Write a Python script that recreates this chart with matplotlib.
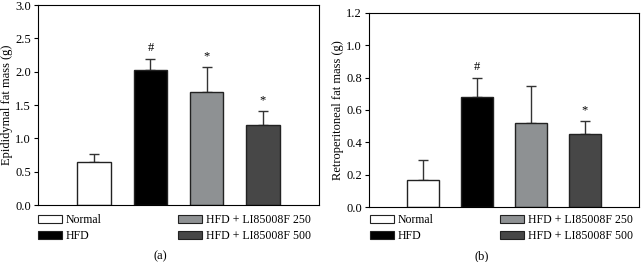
import matplotlib
matplotlib.use("Agg")
import matplotlib.pyplot as plt
from matplotlib.patches import Patch

groups = ["Normal", "HFD", "HFD + LI85008F 250", "HFD + LI85008F 500"]
colors = ["#ffffff", "#000000", "#8e9193", "#474747"]

epi_mean = [0.65, 2.03, 1.70, 1.20]
epi_err = [0.12, 0.16, 0.37, 0.21]
epi_marks = ["", "#", "*", "*"]

retro_mean = [0.17, 0.68, 0.52, 0.45]
retro_err = [0.12, 0.12, 0.23, 0.08]
retro_marks = ["", "#", "", "*"]

plt.rcParams['font.family'] = ['Liberation Serif', 'DejaVu Serif']
plt.rcParams['font.size'] = 9

fig = plt.figure(figsize=(6.41, 2.62), dpi=100)
W, H = 641, 262

def legend_col(idx, x, y):
    handles = [Patch(facecolor=colors[i], edgecolor="#222222", linewidth=0.8) for i in idx]
    leg = fig.legend(handles, [groups[i] for i in idx], ncol=1, loc="upper left",
                     bbox_to_anchor=(x / W, 1 - y / H), frameon=False,
                     handlelength=2.0, handleheight=0.6, handletextpad=0.35,
                     labelspacing=0.35, fontsize=8.5, borderpad=0, borderaxespad=0)
    return leg

def panel(rect, mean, err, marks, ylim, yticks, ylabel, caption, legx1, legx2, capx):
    l, t, r, b = rect
    ax = fig.add_axes([l / W, 1 - b / H, (r - l) / W, (b - t) / H])
    x = list(range(len(mean)))
    ax.bar(x, mean, width=0.6, color=colors, edgecolor="#222222", linewidth=1.0, zorder=2)
    ax.errorbar(x, mean, yerr=[[0] * len(err), err], fmt="none", ecolor="#333333",
                elinewidth=1.0, capsize=3.5, capthick=1.0, zorder=1)
    for xi, m, e, s in zip(x, mean, err, marks):
        if s:
            ax.text(xi, m + e + ylim[1] * 0.025, s, ha="center", va="bottom", fontsize=9)
    ax.set_xlim(-1, 4)
    ax.set_ylim(*ylim)
    ax.set_yticks(yticks)
    ax.set_yticklabels([f"{v:.1f}" for v in yticks])
    ax.set_xticks([])
    ax.tick_params(axis="y", direction="out", length=3, width=0.8, pad=2, labelsize=9)
    for sp in ax.spines.values():
        sp.set_linewidth(0.8)
    ax.set_ylabel(ylabel, fontsize=9, labelpad=2)
    legend_col([0, 1], legx1, 214)
    legend_col([2, 3], legx2, 214)
    fig.text(capx / W, 1 - 256 / H, caption, ha="center", va="center", fontsize=9)
    return ax

panel((38, 5, 319, 205), epi_mean, epi_err, epi_marks, (0, 3.0),
      [0.0, 0.5, 1.0, 1.5, 2.0, 2.5, 3.0], "Epididymal fat mass (g)", "(a)", 38, 178, 160)
panel((369, 13, 639, 207), retro_mean, retro_err, retro_marks, (0, 1.2),
      [0.0, 0.2, 0.4, 0.6, 0.8, 1.0, 1.2], "Retroperitoneal fat mass (g)", "(b)", 370, 500, 482)

fig.savefig("out.png", dpi=100)
